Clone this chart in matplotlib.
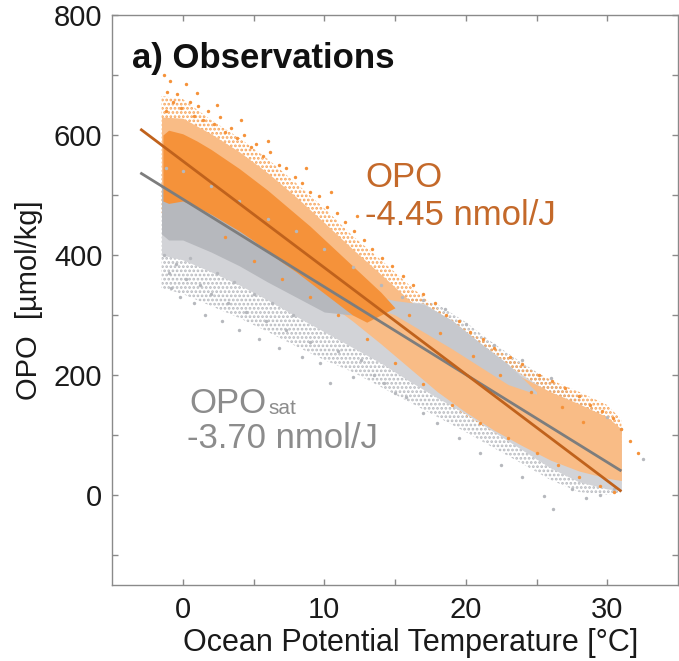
import matplotlib
matplotlib.use("Agg")
import matplotlib.pyplot as plt

plt.rcParams['font.family'] = ['Liberation Sans', 'DejaVu Sans']
plt.rcParams['hatch.linewidth'] = 1.3

# ---------------- data ----------------
fit_x = [-3, 31]
opo_fit_y = [610, 6]
sat_fit_y = [537, 40]

# outer sparse envelopes
opo_wide_x = [-1.5, 0, 2, 4, 6, 8, 10, 12, 14, 16, 18, 20, 22, 24, 26, 28, 30, 31]
opo_wide_up = [665, 660, 625, 595, 560, 520, 478, 432, 392, 350, 310, 276, 246, 216, 192, 172, 150, 126]
opo_wide_lo = [470, 470, 448, 418, 388, 356, 318, 280, 240, 200, 165, 132, 104, 78, 55, 35, 25, 22]

sat_wide_x = [-1.5, 0, 2, 4, 6, 8, 10, 12, 14, 16, 18, 20, 22, 24, 26, 28, 30, 31]
sat_wide_up = [535, 530, 505, 480, 455, 430, 402, 372, 342, 330, 318, 288, 252, 220, 190, 160, 130, 102]
sat_wide_lo = [345, 335, 315, 295, 272, 248, 225, 205, 180, 155, 130, 105, 78, 52, 25, 5, 0, 5]

# medium-density envelopes
opo_mid_x = [-1.5, 0, 2, 4, 6, 8, 10, 12, 14, 16, 18, 20, 22, 24, 26, 28, 30, 31]
opo_mid_up = [630, 628, 602, 572, 537, 497, 454, 410, 368, 325, 285, 250, 222, 196, 172, 152, 130, 110]
opo_mid_lo = [480, 480, 458, 428, 395, 362, 325, 290, 252, 212, 172, 138, 108, 82, 58, 40, 28, 24]

sat_mid_x = [-1.5, 0, 2, 4, 6, 8, 10, 12, 14, 16, 17, 18, 20, 22, 24, 26, 28, 30, 31]
sat_mid_up = [525, 520, 496, 470, 446, 420, 392, 362, 332, 322, 320, 305, 272, 232, 200, 170, 138, 108, 86]
sat_mid_lo = [400, 392, 372, 350, 325, 298, 272, 246, 220, 190, 176, 162, 135, 105, 75, 45, 22, 10, 8]

# gray band lying above the OPO cloud at warm temperatures
sat_tongue_x = [13, 15, 17, 19, 21, 23, 25]
sat_tongue_up = [335, 324, 318, 292, 254, 218, 172]
sat_tongue_lo = [318, 300, 272, 244, 214, 184, 168]

# dense cores
opo_core_x = [-1.4, -1.0, 0, 1, 2, 3, 4, 5, 6, 7, 8, 9, 10, 11, 12, 13, 14, 15]
opo_core_up = [600, 608, 602, 590, 576, 560, 544, 526, 508, 488, 468, 448, 426, 404, 382, 360, 338, 312]
opo_core_lo = [490, 486, 490, 480, 468, 454, 440, 424, 406, 388, 372, 354, 336, 318, 300, 288, 300, 312]

sat_core_x = [-1.5, -1, 0, 2, 4, 6, 8, 10, 12, 13]
sat_core_up = [512, 520, 510, 486, 460, 436, 410, 382, 350, 325]
sat_core_lo = [435, 425, 425, 405, 382, 355, 330, 305, 300, 325]

# individual scattered observations
opo_pts_x = [-1.3, -1.1, -0.9, -0.7, -1.2, -0.4, -0.1, 0.2, 0.5, 0.8, 1.1, 1.4, 1.8, 2.2, 2.6, 3.0, 3.4,
             3.8, 4.3, 4.8, 5.2, 5.7, 6.2, 6.8, 7.3, 7.9, 8.4, 9.0, 9.6, 10.2, 10.9, 11.5, 12.1, 12.8,
             13.4, 14.1, 14.8, 15.6, 16.3, 17.0, 17.8, 18.6, 19.5, 20.3, 21.2, 22.0, 23.1, 24.0, 25.2,
             26.1, 27.0, 28.0, 28.8, 29.6, 30.4, 31.0, 31.6, 32.2,
             3, 5, 7, 9, 11, 13, 15, 17, 19, 21, 23, 25, 26.5, 28, 29.5, 30.5,
             1.0, 2.4, 4.1, 6.0, 8.7, 10.5, 12.3,
             16.0, 18.2, 20.5, 22.4, 24.6, 26.8, 28.3]
opo_pts_y = [700, 672, 690, 655, 640, 668, 645, 685, 655, 632, 648, 625, 640, 618, 630, 605, 612,
             595, 600, 580, 585, 565, 572, 550, 545, 530, 520, 505, 498, 480, 470, 455, 440, 425,
             410, 395, 382, 365, 350, 335, 320, 300, 290, 272, 260, 245, 230, 218, 200,
             190, 178, 165, 150, 140, 128, 110, 90, 70,
             430, 390, 360, 330, 300, 260, 220, 185, 150, 120, 95, 70, 50, 30, 15, 5,
             670, 650, 625, 590, 545, 505, 465,
             300, 270, 232, 200, 172, 146, 122]

sat_pts_x = [-1.3, -1.0, -0.8, -0.5, -0.2, 0.2, 0.5, 0.8, 1.2, 1.6, 2.0, 2.4, 2.8, 3.2, 3.6, 4.0, 4.5,
             5.0, 5.4, 5.9, 6.3, 6.8, 7.3, 7.8, 8.4, 9.0, 9.7, 10.4, 11.0, 12.0, 12.6, 13.5, 14.2,
             15.0, 15.8, 17.0, 18.0, 19.5, 21, 22.5, 24, 25.5, 26.2, 27.5, 28.5, 29.5, 30.5,
             -1.2, 0, 2, 4, 6, 8, 10, 12, 14, 15.5, 17, 18.5, 20, 22, 24, 26, 28, 30, 31, 32.5]
sat_pts_y = [400, 370, 345, 385, 330, 360, 395, 320, 350, 300, 335, 370, 290, 320, 355, 275, 305,
             335, 260, 290, 320, 245, 275, 300, 230, 255, 220, 187, 240, 197, 225, 200, 187,
             170, 163, 137, 120, 95, 70, 50, 30, -2, -23, 10, -5, 0, 10,
             545, 540, 515, 490, 460, 440, 410, 380, 350, 330, 325, 310, 285, 250, 225, 195, 165, 130, 110, 60]

# ---------------- styles ----------------
ORANGE_DOT = '#f5923a'
ORANGE_MID = '#f9bc86'
GRAY_DOT = '#b6b8bd'
GRAY_MID = '#d2d3d7'
GRAY_TONGUE = '#c6c8cd'
ORANGE_LINE = '#c0621c'
GRAY_LINE = '#7d7d7d'
ORANGE_TXT = '#c4692a'
GRAY_TXT = '#8c8c8c'
SPINE = '#8a8a8a'

fig = plt.figure(figsize=(6.79, 6.61), dpi=100)
ax = fig.add_axes([112 / 679, 76 / 661, 566 / 679, 570 / 661])

# sparse outer bands (dotted texture)
ax.fill_between(sat_wide_x, sat_wide_lo, sat_wide_up, facecolor='none', edgecolor='#b8babf',
                hatch='....', linewidth=0, zorder=1)
ax.fill_between(opo_wide_x, opo_wide_lo, opo_wide_up, facecolor='none', edgecolor='#f7a45a',
                hatch='....', linewidth=0, zorder=1.2)
# medium-density bands
ax.fill_between(sat_mid_x, sat_mid_lo, sat_mid_up, color=GRAY_MID, linewidth=0, zorder=1.4)
ax.fill_between(opo_mid_x, opo_mid_lo, opo_mid_up, color=ORANGE_MID, linewidth=0, zorder=1.45)
ax.fill_between(sat_tongue_x, sat_tongue_lo, sat_tongue_up, color=GRAY_TONGUE, linewidth=0, zorder=1.47)
# dense cores
ax.fill_between(sat_core_x, sat_core_lo, sat_core_up, color=GRAY_DOT, linewidth=0, zorder=1.5)
ax.fill_between(opo_core_x, opo_core_lo, opo_core_up, color=ORANGE_DOT, linewidth=0, zorder=1.6)
# scattered points
ax.scatter(sat_pts_x, sat_pts_y, s=6, color=GRAY_DOT, linewidths=0, zorder=2)
ax.scatter(opo_pts_x, opo_pts_y, s=6, color=ORANGE_DOT, linewidths=0, zorder=2.1)

# fitted lines
ax.plot(fit_x, sat_fit_y, color=GRAY_LINE, lw=2.0, zorder=3, solid_capstyle='butt')
ax.plot(fit_x, opo_fit_y, color=ORANGE_LINE, lw=2.0, zorder=3.1, solid_capstyle='butt')

ax.set_xlim(-5, 35)
ax.set_ylim(-150, 800)
ax.set_xticks([0, 10, 20, 30])
ax.set_xticks([5, 15, 25], minor=True)
ax.set_yticks([0, 200, 400, 600, 800])
ax.set_yticks([-100, 100, 300, 500, 700], minor=True)
ax.tick_params(axis='both', which='both', direction='in', length=4, width=1, color=SPINE,
               top=True, right=True, labelsize=21, labelcolor='#1a1a1a')
ax.tick_params(axis='x', which='major', pad=8)
ax.tick_params(axis='y', which='major', pad=7)
for s in ax.spines.values():
    s.set_color(SPINE)
    s.set_linewidth(1.0)

ax.set_xlabel('Ocean Potential Temperature [°C]', fontsize=22, color='#1a1a1a', labelpad=4)
ax.xaxis.set_label_coords(0.527, -0.075)
ax.set_ylabel('OPO  [µmol/kg]', fontsize=21, color='#1a1a1a', labelpad=8)

ax.text(-3.6, 712, 'a) Observations', fontsize=25, fontweight='bold', color='#111111', va='baseline')
ax.text(12.9, 513, 'OPO', fontsize=25, color=ORANGE_TXT, va='baseline')
ax.text(12.9, 450, '-4.45 nmol/J', fontsize=25, color=ORANGE_TXT, va='baseline')
t_sat = ax.text(0.5, 137, 'OPO', fontsize=25, color=GRAY_TXT, va='baseline')
ax.text(0.3, 78, '-3.70 nmol/J', fontsize=25, color=GRAY_TXT, va='baseline')

fig.canvas.draw()
bb = t_sat.get_window_extent()
ax.annotate('sat', xy=(bb.x1 + 1, bb.y0 + 2), xycoords='figure pixels', fontsize=15,
            color=GRAY_TXT, va='bottom', ha='left')

fig.savefig('out.png', dpi=100)
